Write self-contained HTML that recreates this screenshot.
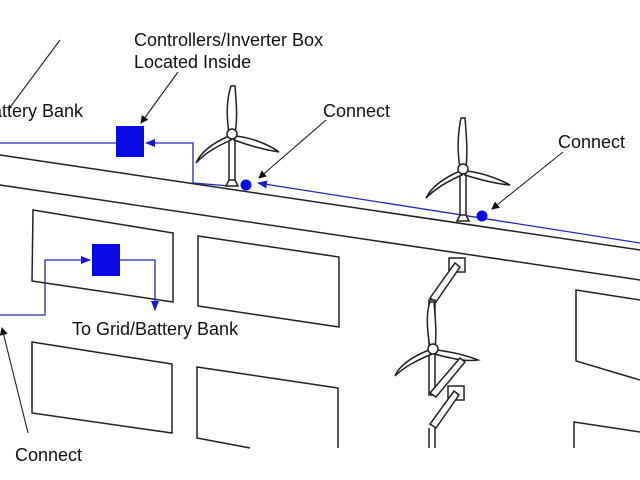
<!DOCTYPE html>
<html><head><meta charset="utf-8"><style>
html,body{margin:0;padding:0;background:#fff;}
svg{display:block;}
text{font-family:"Liberation Sans",Arial,sans-serif;font-size:18px;fill:#111;}
</style></head><body>
<svg width="640" height="480" viewBox="0 0 640 480" xmlns="http://www.w3.org/2000/svg">
<defs>
<marker id="ab" markerWidth="8" markerHeight="8" refX="7" refY="4" orient="auto" markerUnits="userSpaceOnUse"><path d="M0,0 L8,4 L0,8 z" fill="#111"/></marker>
<marker id="bb" markerWidth="10" markerHeight="8" refX="9" refY="4" orient="auto" markerUnits="userSpaceOnUse"><path d="M0,0 L10,4 L0,8 z" fill="#1a1acc"/></marker>
</defs>
<g stroke="#222" stroke-width="1.5" fill="none">
<line x1="0" y1="155" x2="640" y2="250"/>
<line x1="0" y1="185" x2="640" y2="280"/>
<polygon points="33,210 173,233 173,302 32,281"/>
<polygon points="198,236 339,257 339,327 198,306"/>
<polygon points="32,342 172,364 172,433 32,413"/>
<polyline points="338,448 338,388 197,367 197,438 250,448"/>
<polyline points="640,300 576,290 576,361 640,380"/>
<polyline points="640,432 574,422 574,448"/>
</g>
<g stroke="#2626b0" stroke-width="1.3" fill="none">
<line x1="640" y1="243" x2="258" y2="183" marker-end="url(#bb)"/>
<polyline points="230,186 193,183 193,143 146,143" marker-end="url(#bb)"/>
<line x1="116" y1="143" x2="0" y2="143"/>
<polyline points="0,315 45,315 45,260 90,260" marker-end="url(#bb)"/>
<polyline points="120,260 155,260 155,310" marker-end="url(#bb)"/>
</g>
<rect x="116" y="126" width="28" height="31" fill="#0a0ae6"/>
<rect x="92" y="244" width="28" height="32" fill="#0a0ae6"/>
<circle cx="246" cy="185" r="5.5" fill="#0a0ae6"/>
<circle cx="482" cy="216" r="5.5" fill="#0a0ae6"/>
<g stroke="#222" stroke-width="1.5" fill="#fff">
<rect x="229" y="133" width="6" height="52"/>
<path d="M229,133 C226,115 227,98 231,86 L235,86 C236,100 238,118 235,133 z"/>
<path d="M229,136 C215,142 202,150 196,163 C206,152 218,146 231,140 z"/>
<path d="M236,136 C252,138 268,144 279,152 C266,150 250,146 234,140 z"/>
<circle cx="232" cy="134" r="5"/>
<path d="M226,186 L238,186 L235,180 L229,180 z"/>
</g>
<g stroke="#222" stroke-width="1.5" fill="#fff">
<rect x="460" y="168" width="6" height="52"/>
<path d="M460,168 C457,150 458,132 461,118 L465,118 C466,132 468,150 466,168 z"/>
<path d="M460,171 C446,177 432,186 426,198 C436,188 448,181 462,175 z"/>
<path d="M467,171 C483,173 499,179 510,185 C497,184 481,180 465,175 z"/>
<circle cx="463" cy="169" r="5"/>
<path d="M457,221 L469,221 L466,215 L460,215 z"/>
</g>
<g stroke="#222" stroke-width="1.5" fill="#fff">
<rect x="449" y="258" width="16" height="14"/>
<path d="M455,263 L460,267 L436,302 L430,298 z"/>
<rect x="429" y="300" width="6" height="95"/>
<path d="M430,348 C427,330 426,312 430,302 L434,302 C435,316 437,332 435,348 z"/>
<path d="M429,350 C414,356 400,364 395,376 C405,366 418,360 432,354 z"/>
<path d="M437,350 C452,352 468,356 478,360 C465,362 450,358 434,354 z"/>
<circle cx="433" cy="349" r="5"/>
<path d="M460,358 L465,362 L436,397 L430,393 z"/>
<rect x="448" y="386" width="16" height="14"/>
<path d="M454,391 L459,395 L436,428 L430,424 z"/>
<path d="M429,428 L429,448 M435,428 L435,448"/>
</g>
<text x="134" y="46">Controllers/Inverter Box</text>
<text x="134" y="68">Located Inside</text>
<text x="-8" y="117">attery Bank</text>
<text x="323" y="117">Connect</text>
<text x="558" y="148">Connect</text>
<text x="72" y="335">To Grid/Battery Bank</text>
<text x="15" y="461">Connect</text>
<g stroke="#222" stroke-width="1.1" fill="none">
<line x1="60" y1="40" x2="8" y2="110"/>
<line x1="178" y1="72" x2="141" y2="123" marker-end="url(#ab)"/>
<line x1="326" y1="120" x2="259" y2="178" marker-end="url(#ab)"/>
<line x1="563" y1="152" x2="492" y2="209" marker-end="url(#ab)"/>
<line x1="28" y1="433" x2="2" y2="328" marker-end="url(#ab)"/>
</g>
</svg>
</body></html>
